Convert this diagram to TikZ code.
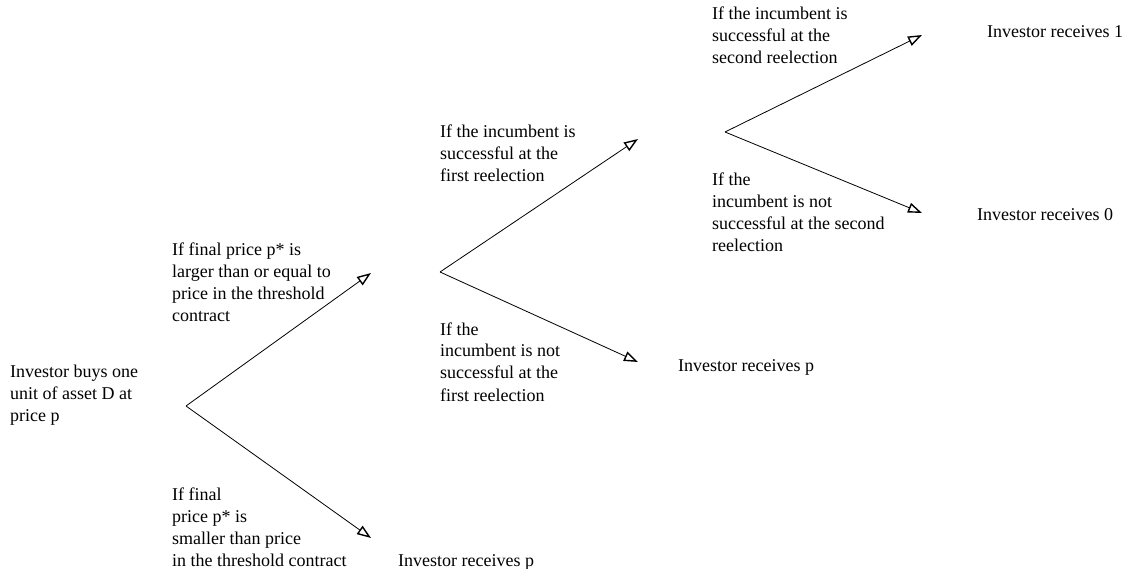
\documentclass[tikz,border=0pt]{standalone}
\usepackage{fontspec}
\setmainfont{Liberation Serif}
\usetikzlibrary{arrows.meta}
\begin{document}
\begin{tikzpicture}[x=1pt,y=-1pt,
  lbl/.style={anchor=base west,align=left,inner sep=0pt,font=\fontsize{18}{22}\selectfont},
  branch/.style={line width=0.8pt,-{Triangle[open,length=14pt,width=10pt,line width=1.4pt]}}]
\useasboundingbox (0,0) rectangle (1125,569);
% vertices
\coordinate (v0) at (186,406);
\coordinate (v1) at (440,272);
\coordinate (v2) at (725,132);
\coordinate (t1) at (371,273);
\coordinate (t2) at (371,538);
\coordinate (t3) at (638,139);
\coordinate (t4) at (638,362);
\coordinate (t5) at (922,35);
\coordinate (t6) at (922,213);
\draw[branch] (v0) -- (t1);
\draw[branch] (v0) -- (t2);
\draw[branch] (v1) -- (t3);
\draw[branch] (v1) -- (t4);
\draw[branch] (v2) -- (t5);
\draw[branch] (v2) -- (t6);
% texts (anchor at baseline of last line)
\node[lbl] (start) at (10,421) {Investor buys one\\unit of asset D at\\price p};
\node[lbl] (l1) at (172,322) {If final price p* is\\larger than or equal to\\price in the threshold\\contract};
\node[lbl] (l2) at (172,566) {If final\\price p* is\\smaller than price\\in the threshold contract};
\node[lbl] (r1) at (398,566) {Investor receives p};
\node[lbl] (l3) at (440,182) {If the incumbent is\\successful at the\\first reelection};
\node[lbl] (l4) at (440,401) {If the\\incumbent is not\\successful at the\\first reelection};
\node[lbl] (r2) at (678,372) {Investor receives p};
\node[lbl] (l5) at (712,64) {If the incumbent is\\successful at the\\second reelection};
\node[lbl] (l6) at (712,252) {If the\\incumbent is not\\successful at the second\\reelection};
\node[lbl] (r3) at (987,38) {Investor receives 1};
\node[lbl] (r4) at (977,221) {Investor receives 0};
\end{tikzpicture}
\end{document}
